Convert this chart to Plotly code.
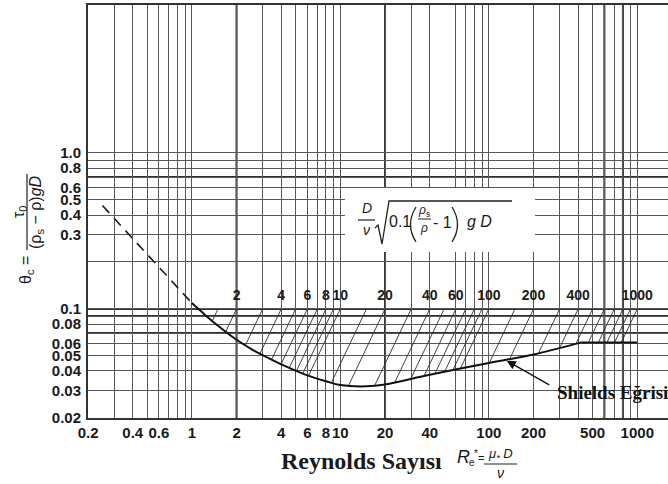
import math
import plotly.graph_objects as go

# ---------------- data ----------------
# dashed (extrapolated) part of the Shields curve
dash_re = [0.25, 1.0]
dash_theta = [0.46, 0.109]

# solid Shields curve (smooth part) and its plateau
curve_re = [1.0, 1.25, 1.5, 2, 2.5, 3, 4, 5, 6, 8, 10, 15, 20, 40, 100, 200, 420]
curve_theta = [0.109, 0.0902, 0.078, 0.0634, 0.0555, 0.0505, 0.0441, 0.0402,
               0.0375, 0.0344, 0.0325, 0.0319, 0.0328, 0.0378, 0.045, 0.051, 0.061]
plateau_re = [420, 1000]
plateau_theta = [0.061, 0.061]

# hatch lines of constant D/v*sqrt(0.1(rho_s/rho-1)gD): top at theta = 0.1
hatch_top_theta = 0.1
hatch_P = [1.5, 2, 3, 4, 5, 6, 7, 8, 9, 10, 15, 20, 30, 40, 50, 60, 70, 80, 90,
           100, 150, 200, 300, 400, 500, 600, 700, 800, 900, 1000]
hatch_end_re = [1.372, 1.692, 2.292, 2.875, 3.445, 3.985, 4.53, 5.06, 5.585, 6.11,
                8.71, 11.37, 17.05, 23.3, 29.8, 36.6, 43.4, 50.4, 57.3, 64.4,
                100.8, 138, 215, 299, 386, 469, 547, 625, 703, 781]
hatch_end_theta = [0.0837, 0.0715, 0.0584, 0.0517, 0.0474, 0.0441, 0.0419, 0.0400,
                   0.0385, 0.0373, 0.0337, 0.0323, 0.0323, 0.0339, 0.0356, 0.0371,
                   0.0385, 0.0396, 0.0406, 0.0415, 0.0451, 0.0476, 0.0515,
                   0.0559, 0.0597, 0.061, 0.061, 0.061, 0.061, 0.061]

# labels of the hatch lines (placed at their parameter value)
top_label_vals = [2, 4, 6, 8, 10, 20, 40, 60, 100, 200, 400, 1000]
top_label_text = ["2", "4", "6", "8", "10", "20", "40", "60", "100", "200", "400", "1000"]
top_label_theta = 0.12

# axis grid / tick labels
x_grid = [0.2, 0.3, 0.4, 0.5, 0.6, 0.7, 0.8, 0.9, 1, 2, 3, 4, 5, 6, 7, 8, 9, 10,
          20, 30, 40, 60, 70, 80, 90, 100, 200, 300, 400, 500, 600, 700, 800, 900, 1000]
x_labeled = {0.2: "0.2", 0.4: "0.4", 0.6: "0.6", 1: "1", 2: "2", 4: "4", 6: "6",
             8: "8", 10: "10", 20: "20", 40: "40", 100: "100", 200: "200",
             500: "500", 1000: "1000"}
y_grid = [0.02, 0.03, 0.04, 0.05, 0.06, 0.07, 0.08, 0.09, 0.1, 0.2, 0.3, 0.4,
          0.5, 0.6, 0.7, 0.8, 0.9, 1.0]
y_labeled = {0.02: "0.02", 0.03: "0.03", 0.04: "0.04", 0.05: "0.05", 0.06: "0.06",
             0.08: "0.08", 0.1: "0.1", 0.3: "0.3", 0.4: "0.4", 0.5: "0.5",
             0.6: "0.6", 0.8: "0.8", 1.0: "1.0"}
x_bold = [2, 20, 600, 800]
y_bold = [0.07, 0.09, 0.1, 0.7]

arrow_re, arrow_theta = 132, 0.0465

# ---------------- layout geometry ----------------
W, H = 668, 484
ML, MR, MT, MB = 88, 0, 5, 66
PW, PH = W - ML - MR, H - MT - MB
XDEC, YDEC = 148.5, 156.0   # pixels per decade


def P(px, py):
    return (px - ML) / PW, (H - MB - py) / PH


SANS = "Liberation Sans, Arial, sans-serif"
SERIF = "Liberation Serif, Times New Roman, serif"
GRID = "#585858"

fig = go.Figure()

# hatch lines
hx, hy = [], []
for p, er, et in zip(hatch_P, hatch_end_re, hatch_end_theta):
    hx += [p, er, None]
    hy += [hatch_top_theta, et, None]
fig.add_trace(go.Scatter(x=hx, y=hy, mode="lines",
                         line=dict(color="#2e2e2e", width=0.9), hoverinfo="skip"))

# dashed part
fig.add_trace(go.Scatter(x=dash_re, y=dash_theta, mode="lines",
                         line=dict(color="#1a1a1a", width=1.6, dash="10px,7px")))
# Shields curve
fig.add_trace(go.Scatter(x=curve_re, y=curve_theta, mode="lines",
                         line=dict(color="#111111", width=2, shape="spline", smoothing=1.0)))
fig.add_trace(go.Scatter(x=plateau_re, y=plateau_theta, mode="lines",
                         line=dict(color="#111111", width=2)))

# hatch labels
fig.add_trace(go.Scatter(x=top_label_vals, y=[top_label_theta] * len(top_label_vals),
                         mode="text", text=top_label_text,
                         textfont=dict(family=SANS, size=14, color="#1a1a1a", weight="bold"),
                         hoverinfo="skip"))

shapes = []
for xv in x_bold:
    shapes.append(dict(type="line", xref="x", yref="paper", x0=xv, x1=xv,
                       y0=0, y1=1, line=dict(color="#303030", width=2), layer="between"))
for yv in y_bold:
    shapes.append(dict(type="line", xref="paper", yref="y", x0=0, x1=1, y0=yv,
                       y1=yv, line=dict(color="#303030", width=2), layer="between"))

# white formula box
bx0, by0 = P(345, 252)
bx1, by1 = P(535, 188)
shapes.append(dict(type="rect", xref="paper", yref="paper", x0=bx0, y0=by0, x1=bx1, y1=by1,
                   fillcolor="white", line=dict(width=0), layer="above"))


def seg(x0, y0, x1, y1, w=1.2):
    a = P(x0, y0)
    b = P(x1, y1)
    shapes.append(dict(type="line", xref="paper", yref="paper", x0=a[0], y0=a[1], x1=b[0], y1=b[1],
                       line=dict(color="#222", width=w), layer="above"))


def path(cmds, w=1.2):
    parts = []
    for c in cmds:
        op, pts = c[0], c[1:]
        parts.append(op + " " + " ".join("{:.5f},{:.5f}".format(*P(a, b)) for a, b in pts))
    shapes.append(dict(type="path", xref="paper", yref="paper", path=" ".join(parts),
                       line=dict(color="#222", width=w), layer="above"))


# formula fraction bars
seg(358, 220, 375, 220)
seg(418, 219, 431, 219, 1)
# radical sign
path([("M", (375, 228)), ("L", (378, 225)), ("L", (382, 244)),
      ("L", (389, 201)), ("L", (512, 201))], 1.3)
# parentheses
path([("M", (416, 207)), ("Q", (405, 224.5), (416, 242))], 1.3)
path([("M", (452, 207)), ("Q", (463, 224.5), (452, 242))], 1.3)
# Re fraction bar
seg(484, 464, 517, 464, 1)
# y-title fraction bar
seg(27, 174, 27, 250, 1.2)

ann = []


def text(px, py, s, size, family=SANS, angle=0, xanchor="center", color="#1a1a1a"):
    x, y = P(px, py)
    ann.append(dict(x=x, y=y, xref="paper", yref="paper", text=s, showarrow=False,
                    font=dict(family=family, size=size, color=color), textangle=angle,
                    xanchor=xanchor, yanchor="middle"))


# formula in the box
text(367, 208, "<i>D</i>", 14)
text(366, 230, "<i>ν</i>", 14)
text(400, 222, "0.1", 16)
text(424, 211, "<i>ρ</i><sub>s</sub>", 12)
text(424, 228, "<i>ρ</i>", 12)
text(442, 223, "- 1", 16)
text(479, 222, "<i>g D</i>", 16)

# y-axis title
text(26, 270, "θ<sub>c</sub> =", 16, angle=-90)
text(19, 212, "τ<sub>0</sub>", 16, angle=-90)
text(36, 212, "(ρ<sub>s</sub> − ρ)<i>gD</i>", 16, angle=-90)

# x-axis title
text(361, 461, "<b>Reynolds Sayısı</b>", 24, family=SERIF)
text(463, 457, "<i>R</i>", 18)
text(472, 462, "e", 10)
text(476, 453, "*", 10)
text(481, 458, "=", 11)
text(500, 454, "<i>μ<sub>*</sub> D</i>", 13)
text(500, 473, "<i>ν</i>", 14)

# Shields label
text(555, 392, "<b>Shields Eğrisi</b>", 19, family=SERIF, xanchor="left", color="#111")
ann.append(dict(x=math.log10(arrow_re), y=math.log10(arrow_theta), xref="x", yref="y",
                text="", showarrow=True, ax=44, ay=25, arrowhead=2, arrowsize=1.3,
                arrowwidth=1.4, arrowcolor="#111"))

x_ticktext = [x_labeled.get(v, "") for v in x_grid]
y_ticktext = [y_labeled.get(v, "") for v in y_grid]

fig.update_layout(
    width=W, height=H, autosize=False,
    margin=dict(l=ML, r=MR, t=MT, b=MB, pad=0),
    paper_bgcolor="white", plot_bgcolor="white",
    showlegend=False,
    shapes=shapes, annotations=ann,
    xaxis=dict(type="log",
               range=[math.log10(0.2) - 0.0005, math.log10(0.2) + PW / XDEC],
               tickmode="array", tickvals=x_grid, ticktext=x_ticktext, tickangle=0,
               showgrid=True, gridcolor=GRID, gridwidth=1,
               showline=True, linecolor="#333", linewidth=2, mirror=True,
               ticks="", tickfont=dict(family=SANS, size=15, color="#1a1a1a", weight="bold"),
               zeroline=False),
    yaxis=dict(type="log",
               range=[math.log10(0.02) - 0.0005, math.log10(0.02) + PH / YDEC],
               tickmode="array", tickvals=y_grid, ticktext=y_ticktext,
               showgrid=True, gridcolor=GRID, gridwidth=1,
               showline=True, linecolor="#333", linewidth=2,
               ticks="", ticklabelstandoff=2,
               tickfont=dict(family=SANS, size=15, color="#1a1a1a", weight="bold"),
               zeroline=False),
)

fig.write_html("out.html")
